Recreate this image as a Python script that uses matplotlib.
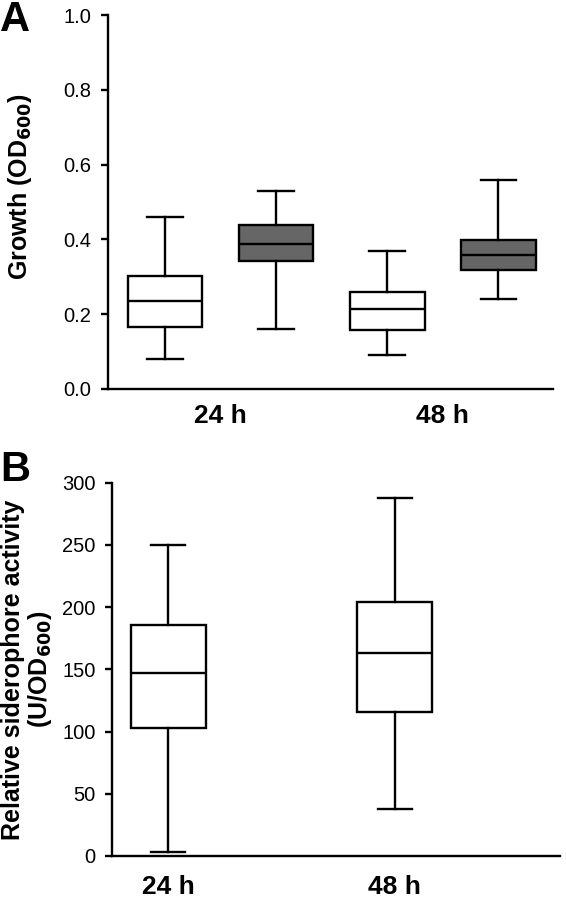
import matplotlib
matplotlib.use("Agg")
import matplotlib.pyplot as plt

plt.rcParams['font.family'] = ['Liberation Sans', 'DejaVu Sans']
plt.rcParams['mathtext.default'] = 'regular'

# ---- Panel A data: growth (OD600) ----
a_labels = ["24 h", "48 h"]
a_positions = [1, 2, 3, 4]
a_whislo = [0.08, 0.16, 0.09, 0.24]
a_q1 = [0.165, 0.342, 0.158, 0.317]
a_med = [0.234, 0.389, 0.214, 0.358]
a_q3 = [0.301, 0.439, 0.259, 0.399]
a_whishi = [0.46, 0.53, 0.37, 0.56]
a_fill = ["white", "#666666", "white", "#666666"]

# ---- Panel B data: siderophore activity ----
b_labels = ["24 h", "48 h"]
b_positions = [1, 2]
b_whislo = [3, 38]
b_q1 = [103, 116]
b_med = [147, 163]
b_q3 = [186, 204]
b_whishi = [250, 288]

LW = 1.7

fig = plt.figure(figsize=(5.66, 9.0), dpi=100)
axA = fig.add_axes([0.191, 0.5678, 0.786, 0.4155])
axB = fig.add_axes([0.198, 0.0489, 0.791, 0.4148])


def make_stats(lo, q1, med, q3, hi):
    return [dict(whislo=l, q1=a, med=m, q3=b, whishi=h, fliers=[])
            for l, a, m, b, h in zip(lo, q1, med, q3, hi)]


def style(ax):
    for s in ['top', 'right']:
        ax.spines[s].set_visible(False)
    for s in ['left', 'bottom']:
        ax.spines[s].set_linewidth(LW)
    ax.tick_params(axis='y', direction='out', length=5, width=LW,
                   labelsize=14.5, pad=7)
    ax.tick_params(axis='x', length=0)


# Panel A
statsA = make_stats(a_whislo, a_q1, a_med, a_q3, a_whishi)
artA = axA.bxp(statsA, positions=a_positions, widths=0.67, capwidths=0.32,
               patch_artist=True, showfliers=False,
               boxprops=dict(linewidth=LW, edgecolor='black'),
               medianprops=dict(linewidth=LW, color='black'),
               whiskerprops=dict(linewidth=LW, color='black'),
               capprops=dict(linewidth=LW, color='black'))
for patch, c in zip(artA['boxes'], a_fill):
    patch.set_facecolor(c)
axA.set_xlim(0.49, 4.49)
axA.set_ylim(0, 1.0)
axA.set_yticks([0.0, 0.2, 0.4, 0.6, 0.8, 1.0])
axA.set_yticklabels(["0.0", "0.2", "0.4", "0.6", "0.8", "1.0"])
axA.set_xticks([1.5, 3.5])
axA.set_xticklabels(a_labels, fontsize=19, fontweight='bold')
style(axA)
axA.tick_params(axis='x', pad=11)
axA.set_ylabel(r"Growth (OD$_{\mathbf{600}}$)", fontsize=18, fontweight='bold')
axA.yaxis.set_label_coords(-0.166, 0.54)

# Panel B
statsB = make_stats(b_whislo, b_q1, b_med, b_q3, b_whishi)
artB = axB.bxp(statsB, positions=b_positions, widths=0.33, capwidths=0.15,
               patch_artist=True, showfliers=False,
               boxprops=dict(linewidth=LW, edgecolor='black', facecolor='white'),
               medianprops=dict(linewidth=LW, color='black'),
               whiskerprops=dict(linewidth=LW, color='black'),
               capprops=dict(linewidth=LW, color='black'))
axB.set_xlim(0.753, 2.727)
axB.set_ylim(0, 300)
axB.set_yticks([0, 50, 100, 150, 200, 250, 300])
axB.set_xticks(b_positions)
axB.set_xticklabels(b_labels, fontsize=19, fontweight='bold')
style(axB)
axB.tick_params(axis='x', pad=14)
axB.set_ylabel("Relative siderophore activity\n" + r"(U/OD$_{\mathbf{600}}$)",
               fontsize=18, fontweight='bold', linespacing=1.05)
axB.yaxis.set_label_coords(-0.13, 0.5)

fig.text(0.0, 1.0, "A", fontsize=30, fontweight='bold', va='top', ha='left')
fig.text(0.0, 0.5, "B", fontsize=30, fontweight='bold', va='top', ha='left')

fig.savefig("out.png", dpi=100)
